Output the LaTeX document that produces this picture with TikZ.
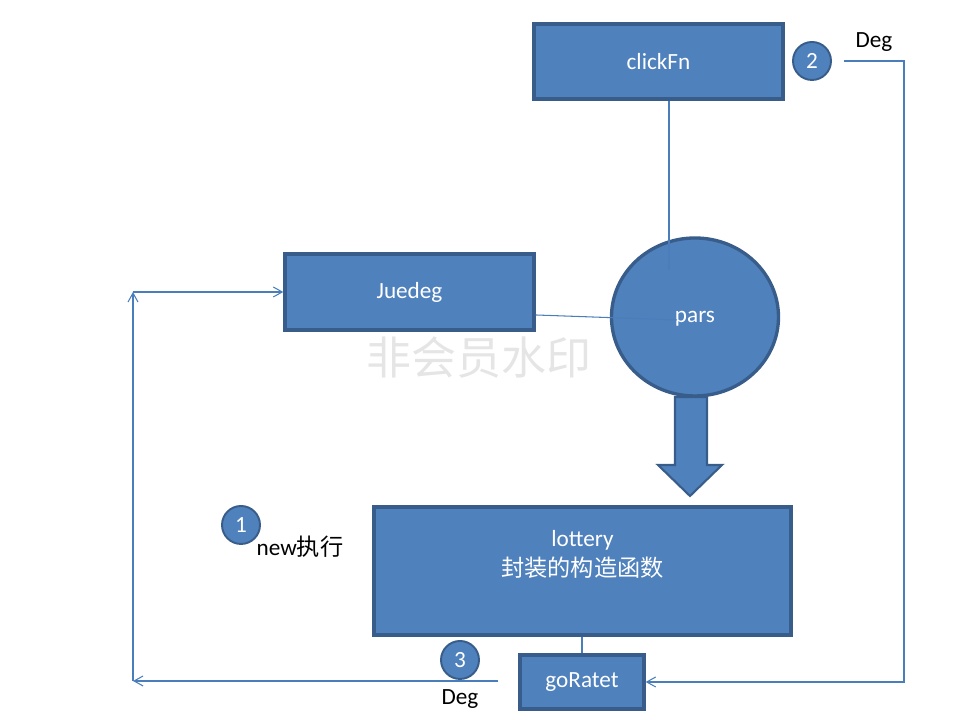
\documentclass[tikz,border=0pt]{standalone}
\usepackage{fontspec}
\setmainfont{Carlito}
\newfontfamily\cjk{Noto Sans CJK SC}
\usetikzlibrary{arrows.meta,positioning,shapes.geometric}

\definecolor{boxfill}{HTML}{4F81BD}
\definecolor{boxline}{HTML}{385D8A}
\definecolor{linkcol}{HTML}{4A7EBB}

\tikzset{
  box/.style={draw=boxline,line width=0.95pt,fill=boxfill,text=white,
    minimum width=2.49cm,minimum height=0.75cm,inner sep=0pt},
  numcirc/.style={circle,draw=boxline,line width=0.55pt,fill=boxfill,text=white,
    minimum size=0.38cm,inner sep=0pt},
  link/.style={draw=linkcol,line width=0.3pt},
  lbl/.style={text=black,inner sep=0pt},
}

\begin{document}
\begin{tikzpicture}[>={Straight Barb[length=0.9mm,width=1.0mm]},
    font=\fontsize{6.6}{8}\selectfont]
  \useasboundingbox (0,0) rectangle (9.6,7.2);

  % watermark
  \node[text=black!10,font=\cjk\fontsize{12.8}{14}\selectfont] (wm) at (4.79,3.62) {非会员水印};

  % Boxes
  \node[box] (clickFn) at (6.585,6.585) {clickFn};
  \node[box,minimum height=0.76cm] (Juedeg) at (4.095,4.28) {Juedeg};
  \node[box,ellipse,minimum width=1.67cm,minimum height=1.58cm,text depth=0pt] (pars) at (6.95,4.03) {pars};
  \node[box,minimum width=4.17cm,minimum height=1.28cm] (lottery) at (5.825,1.49) {};
  \node[text=white,align=center,below=0.13cm of lottery.north] (lotterytxt) {lottery\\[0.02cm]{\cjk 封装的构造函数}};
  \node[box,minimum width=1.24cm,minimum height=0.54cm] (goRatet) at (5.82,0.38) {goRatet};

  % Numbers
  \node[numcirc] (num1) at (2.41,1.95) {1};
  \node[numcirc] (num2) at (8.12,6.59) {2};
  \node[numcirc] (num3) at (4.60,0.60) {3};
  \node[lbl,anchor=west] (newlbl) at (2.56,1.73) {new{\cjk 执行}};
  \node[lbl] (deg2) at (8.74,6.78) {Deg};
  \node[lbl] (deg3) at (4.60,0.21) {Deg};

  % Block arrow from pars down to lottery
  \draw[draw=boxline,line width=0.6pt,fill=boxfill]
    (6.75,3.23) -- (7.07,3.23) -- (7.07,2.55) -- (7.22,2.55) -- (6.90,2.24)
    -- (6.58,2.55) -- (6.75,2.55) -- cycle;

  % Connectors
  \coordinate (parsin) at (6.69,4.50);
  \draw[link] (clickFn.south -| parsin) -- (parsin);
  \draw[link] ([yshift=-0.23cm]Juedeg.east) -- ([xshift=-0.18cm,yshift=-0.03cm]pars.center);
  \draw[link] (lottery.south -| goRatet.north) -- (goRatet.north);

  % right loop (2)
  \coordinate (rt) at (9.04,6.59);
  \draw[link,->] ([xshift=0.12cm]num2.east) -- (rt) |- (goRatet.east);

  % left loop (3 -> 1)
  \coordinate (lb) at (1.33,0.39);
  \coordinate (lt) at (1.33,4.28);
  \draw[link,->] ([xshift=-0.2cm]goRatet.west |- lb) -- (lb);
  \draw[link,->] (lb) -- (lt);
  \draw[link,->] (lt) -- (Juedeg.west);
\end{tikzpicture}
\end{document}
